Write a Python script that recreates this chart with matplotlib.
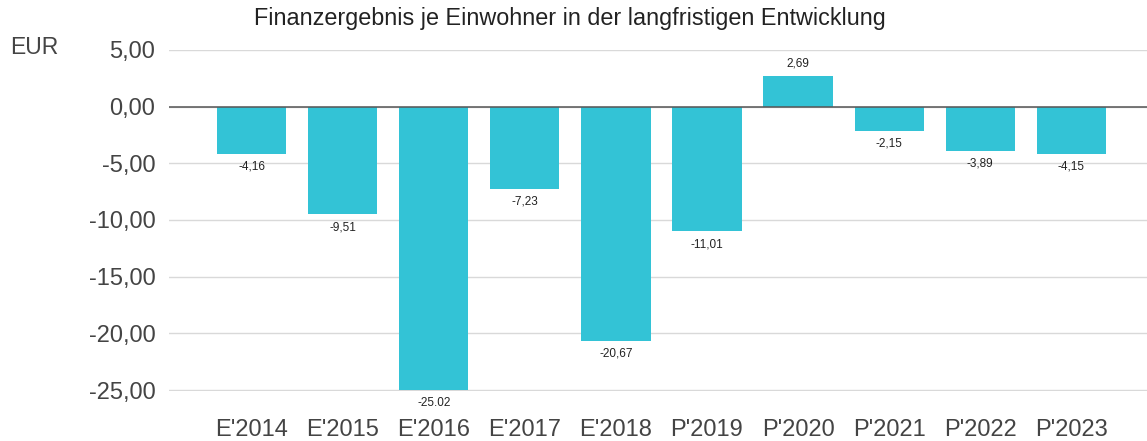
import numpy as np
import matplotlib.pyplot as plt

plt.rcParams['font.family'] = ['Liberation Sans', 'DejaVu Sans']

# Daten
jahre = ["E'2014", "E'2015", "E'2016", "E'2017", "E'2018",
         "P'2019", "P'2020", "P'2021", "P'2022", "P'2023"]
werte = [-4.16, -9.51, -25.02, -7.23, -20.67, -11.01, 2.69, -2.15, -3.89, -4.15]
beschriftung = ['-4,16', '-9,51', '-25.02', '-7,23', '-20,67',
                '-11,01', '2,69', '-2,15', '-3,89', '-4,15']
y_ticks = [5, 0, -5, -10, -15, -20, -25]
y_labels = ['5,00', '0,00', '-5,00', '-10,00', '-15,00', '-20,00', '-25,00']

fig = plt.figure(figsize=(11.47, 4.41), dpi=100)
ax = fig.add_axes([0.147, 0.113, 0.853, 0.774])

x = np.arange(len(jahre))
ax.bar(x, werte, width=0.76, color='#33c3d6', zorder=3)

# Werte an den Balken
for xi, v, txt in zip(x, werte, beschriftung):
    if v >= 0:
        ax.annotate(txt, (xi, v), xytext=(0, 5), textcoords='offset points',
                    ha='center', va='bottom', fontsize=8.5, color='#222222')
    else:
        ax.annotate(txt, (xi, v), xytext=(0, -5), textcoords='offset points',
                    ha='center', va='top', fontsize=8.5, color='#222222')

ax.set_ylim(-25.1, 5.0)
ax.set_xlim(-0.91, 9.83)
ax.set_yticks(y_ticks, labels=y_labels)
ax.set_xticks(x, labels=jahre)
ax.grid(axis='y', color='#d9d9d9', linewidth=1, zorder=0)
ax.axhline(0, color='#555555', linewidth=1.1, zorder=4)
ax.tick_params(axis='y', length=0, pad=9.5, labelsize=17, labelcolor='#444444')
ax.tick_params(axis='x', length=0, pad=20, labelsize=17, labelcolor='#444444')
for s in ax.spines.values():
    s.set_visible(False)

fig.text(0.497, 0.958, 'Finanzergebnis je Einwohner in der langfristigen Entwicklung',
         ha='center', va='center', fontsize=16.8, color='#222222')
fig.text(0.009, 0.893, 'EUR', ha='left', va='center', fontsize=16.5, color='#444444')

plt.savefig('out.png', dpi=100)
